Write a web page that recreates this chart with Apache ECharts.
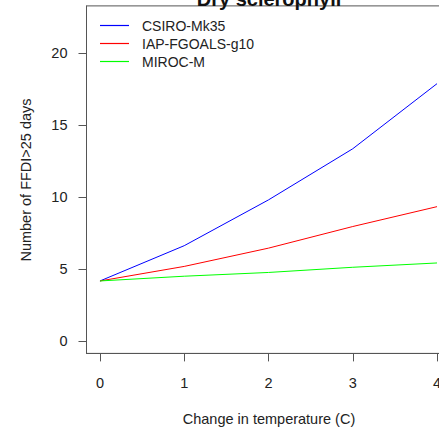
<!DOCTYPE html>
<html>
<head>
<meta charset="utf-8">
<script src="https://cdn.jsdelivr.net/npm/echarts@6/dist/echarts.min.js"></script>
<style>
html,body{margin:0;padding:0;background:#fff;overflow:hidden;}
#chart{width:439px;height:428px;}
</style>
</head>
<body>
<div id="chart"></div>
<script>
const temps = [0, 1, 2, 3, 4];
const xTicks = [0, 1, 2, 3, 4];
const yTicks = [0, 5, 10, 15, 20];
const csiro = [4.17, 6.62, 9.8, 13.35, 17.87];
const iap = [4.17, 5.18, 6.45, 7.95, 9.33];
const miroc = [4.17, 4.5, 4.76, 5.12, 5.42];
const seriesNames = ['CSIRO-Mk35', 'IAP-FGOALS-g10', 'MIROC-M'];
const seriesColors = ['#0000ff', '#ff0000', '#00ff00'];
const seriesValues = [csiro, iap, miroc];
const xTitle = 'Change in temperature (C)';
const yTitle = 'Number of FFDI>25 days';
const chartTitle = 'Dry sclerophyll';

const chart = echarts.init(document.getElementById('chart'), null, {renderer: 'svg'});
const font = 'Liberation Sans, Arial, Helvetica, sans-serif';
const axisCol = '#555';
const textCol = '#222';

chart.setOption({
  animation: false,
  backgroundColor: '#fff',
  title: {
    text: chartTitle,
    left: 269,
    textAlign: 'center',
    top: -11,
    padding: 0,
    textStyle: {fontFamily: font, fontWeight: 'bold', fontSize: 20, color: '#111'}
  },
  legend: {
    orient: 'vertical',
    left: 100,
    top: 18.5,
    padding: 0,
    icon: 'rect',
    itemWidth: 29,
    itemHeight: 1.2,
    itemGap: 4,
    data: seriesNames,
    textStyle: {fontFamily: font, fontSize: 14, color: textCol, padding: [0, 0, 0, 8]}
  },
  graphic: [
    {type: 'text', x: 269, y: 419, silent: true,
     style: {text: xTitle, align: 'center', verticalAlign: 'middle', fontFamily: font, fontSize: 14.5, fill: textCol}},
    {type: 'text', x: 26, y: 180, rotation: Math.PI / 2, silent: true,
     style: {text: yTitle, align: 'center', verticalAlign: 'middle', fontFamily: font, fontSize: 14.5, fill: textCol}}
  ],
  grid: {
    left: 86.5, top: 5.9, width: 364, height: 347.5,
    outerBoundsMode: 'none',
    containLabel: false,
    show: true, borderColor: axisCol, borderWidth: 1, backgroundColor: 'transparent'
  },
  xAxis: {
    type: 'value',
    min: -0.16, max: 4.16,
    splitLine: {show: false},
    axisLine: {show: true, onZero: false, lineStyle: {color: axisCol}},
    axisTick: {show: true, length: 8, customValues: xTicks, lineStyle: {color: axisCol}},
    axisLabel: {customValues: xTicks, margin: 22, fontFamily: font, fontSize: 14.5, color: textCol}
  },
  yAxis: {
    type: 'value',
    min: -0.86, max: 23.27,
    splitLine: {show: false},
    axisLine: {show: true, onZero: false, lineStyle: {color: axisCol}},
    axisTick: {show: true, length: 8, customValues: yTicks, lineStyle: {color: axisCol}},
    axisLabel: {customValues: yTicks, margin: 19, fontFamily: font, fontSize: 14.5, color: textCol}
  },
  series: seriesNames.map((n, i) => ({
    name: n,
    type: 'line',
    symbol: 'none',
    color: seriesColors[i],
    lineStyle: {width: 1, color: seriesColors[i]},
    data: temps.map((t, j) => [t, seriesValues[i][j]])
  }))
});
</script>
</body>
</html>
